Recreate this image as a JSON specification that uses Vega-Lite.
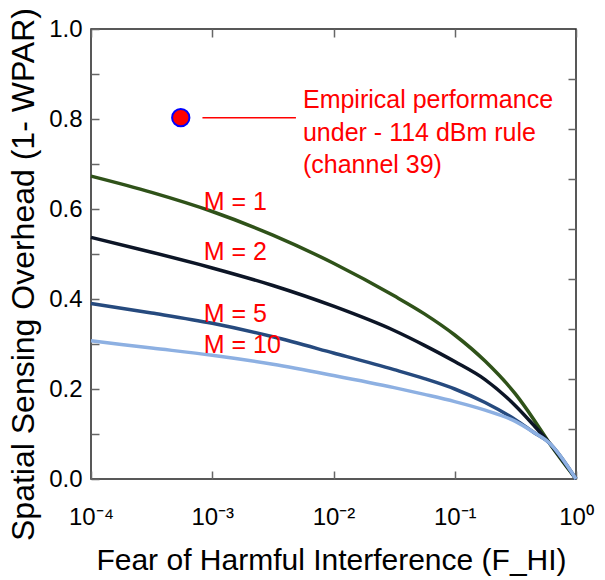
{
  "$schema": "https://vega.github.io/schema/vega-lite/v6.json",
  "width": 485,
  "height": 450,
  "autosize": "none",
  "padding": {"left": 91, "top": 29, "right": 29, "bottom": 101},
  "background": "white",
  "config": {
    "font": "Liberation Sans",
    "view": {"stroke": "#222222", "strokeWidth": 1.5},
    "axis": {"domain": false, "grid": false, "labelFont": "Liberation Sans", "titleFont": "Liberation Sans", "titleFontWeight": "normal", "labelColor": "#000000", "titleColor": "#000000", "tickColor": "#666666", "tickWidth": 1.5, "tickSize": -8, "labelFlush": false, "labelOverlap": false, "labelBound": false}
  },
  "datasets": {
    "curves": [
      {"F": 0.0001, "v": 0.673, "M": "M1"}, {"F": 0.00031623, "v": 0.637, "M": "M1"}, {"F": 0.001, "v": 0.5945, "M": "M1"}, {"F": 0.0031623, "v": 0.542, "M": "M1"}, {"F": 0.01, "v": 0.4795, "M": "M1"}, {"F": 0.031623, "v": 0.407, "M": "M1"}, {"F": 0.056234, "v": 0.367, "M": "M1"}, {"F": 0.1, "v": 0.32, "M": "M1"}, {"F": 0.17783, "v": 0.262, "M": "M1"}, {"F": 0.31623, "v": 0.189, "M": "M1"}, {"F": 0.44668, "v": 0.133, "M": "M1"}, {"F": 0.60256, "v": 0.08, "M": "M1"}, {"F": 1, "v": 0, "M": "M1"},
      {"F": 0.0001, "v": 0.537, "M": "M2"}, {"F": 0.00031623, "v": 0.504, "M": "M2"}, {"F": 0.001, "v": 0.469, "M": "M2"}, {"F": 0.0031623, "v": 0.43, "M": "M2"}, {"F": 0.01, "v": 0.384, "M": "M2"}, {"F": 0.031623, "v": 0.33, "M": "M2"}, {"F": 0.056234, "v": 0.297, "M": "M2"}, {"F": 0.1, "v": 0.261, "M": "M2"}, {"F": 0.17783, "v": 0.221, "M": "M2"}, {"F": 0.31623, "v": 0.163, "M": "M2"}, {"F": 0.44668, "v": 0.12, "M": "M2"}, {"F": 0.60256, "v": 0.08, "M": "M2"}, {"F": 1, "v": 0, "M": "M2"},
      {"F": 0.0001, "v": 0.39, "M": "M5"}, {"F": 0.00031623, "v": 0.369, "M": "M5"}, {"F": 0.001, "v": 0.346, "M": "M5"}, {"F": 0.0031623, "v": 0.316, "M": "M5"}, {"F": 0.01, "v": 0.28, "M": "M5"}, {"F": 0.031623, "v": 0.243, "M": "M5"}, {"F": 0.056234, "v": 0.223, "M": "M5"}, {"F": 0.1, "v": 0.2, "M": "M5"}, {"F": 0.17783, "v": 0.17, "M": "M5"}, {"F": 0.31623, "v": 0.132, "M": "M5"}, {"F": 0.44668, "v": 0.104, "M": "M5"}, {"F": 0.60256, "v": 0.08, "M": "M5"}, {"F": 1, "v": 0, "M": "M5"},
      {"F": 0.0001, "v": 0.307, "M": "M10"}, {"F": 0.00031623, "v": 0.291, "M": "M10"}, {"F": 0.001, "v": 0.275, "M": "M10"}, {"F": 0.0031623, "v": 0.255, "M": "M10"}, {"F": 0.01, "v": 0.23, "M": "M10"}, {"F": 0.031623, "v": 0.203, "M": "M10"}, {"F": 0.056234, "v": 0.188, "M": "M10"}, {"F": 0.1, "v": 0.172, "M": "M10"}, {"F": 0.17783, "v": 0.153, "M": "M10"}, {"F": 0.31623, "v": 0.128, "M": "M10"}, {"F": 0.44668, "v": 0.104, "M": "M10"}, {"F": 0.60256, "v": 0.08, "M": "M10"}, {"F": 1, "v": 0, "M": "M10"}
    ],
    "point": [{"F": 0.00055, "v": 0.803}],
    "leader": [{"F1": 0.00083, "F2": 0.0049, "v": 0.803}],
    "note": [{"F": 0.0056, "v": 0.8235, "label": "Empirical performance\nunder - 114 dBm rule\n(channel 39)"}],
    "mlabels": [
      {"F": 0.00085, "v": 0.616, "label": "M = 1"},
      {"F": 0.00085, "v": 0.505, "label": "M = 2"},
      {"F": 0.00085, "v": 0.367, "label": "M = 5"},
      {"F": 0.00085, "v": 0.297, "label": "M = 10"}
    ]
  },
  "layer": [
    {
      "data": {"name": "curves"},
      "mark": {"type": "line", "strokeWidth": 3.5, "interpolate": "monotone"},
      "encoding": {
        "x": {"field": "F", "type": "quantitative", "scale": {"type": "log", "domain": [0.0001, 1], "nice": false},
          "axis": {"orient": "bottom", "values": [0.0001, 0.001, 0.01, 0.1, 1], "labelFontSize": 24, "labelBaseline": "alphabetic", "labelAlign": "center", "labelPadding": 53,
            "labelExpr": "datum.value >= 0.99 ? '10⁰' : datum.value >= 0.099 ? '10⁻¹' : datum.value >= 0.0099 ? '10⁻²' : datum.value >= 0.00099 ? '10⁻³' : '10⁻⁴'",
            "title": "Fear of Harmful Interference (F_HI)", "titleFontSize": 30, "titleBaseline": "alphabetic", "titleY": 90, "titleX": 240}},
        "y": {"field": "v", "type": "quantitative", "scale": {"domain": [0, 1], "nice": false, "zero": false},
          "axis": {"orient": "left", "values": [0, 0.1, 0.2, 0.3, 0.4, 0.5, 0.6, 0.7, 0.8, 0.9, 1.0], "labelFontSize": 24, "labelPadding": 17, "labelBaseline": "middle",
            "labelExpr": "round(datum.value * 10) % 2 == 0 ? format(datum.value, '.1f') : ''",
            "title": "Spatial Sensing Overhead (1- WPAR)", "titleFontSize": 32, "titleBaseline": "alphabetic", "titleX": -58, "titleY": 245, "titleAngle": -90}},
        "color": {"field": "M", "type": "nominal", "scale": {"domain": ["M10", "M5", "M2", "M1"], "range": ["#8db0e2", "#264a7e", "#0c1526", "#2f5219"]}, "legend": null}
      }
    },
    {
      "data": {"name": "point"},
      "mark": {"type": "point", "shape": "circle", "filled": true, "fill": "#ff0000", "stroke": "#0000ff", "strokeWidth": 2, "size": 300, "opacity": 1},
      "encoding": {
        "x": {"field": "F", "type": "quantitative", "scale": {"type": "log", "domain": [0.0001, 1], "nice": false},
          "axis": {"orient": "top", "values": [0.0001, 0.001, 0.01, 0.1, 1], "labels": false, "title": null}},
        "y": {"field": "v", "type": "quantitative", "scale": {"domain": [0, 1], "nice": false, "zero": false},
          "axis": {"orient": "right", "values": [0.11111, 0.22222, 0.33333, 0.44444, 0.55556, 0.66667, 0.77778, 0.88889], "labels": false, "title": null}}
      }
    },
    {
      "data": {"name": "leader"},
      "mark": {"type": "rule", "color": "#ff0000", "strokeWidth": 1.5},
      "encoding": {
        "x": {"field": "F1", "type": "quantitative", "axis": null},
        "x2": {"field": "F2"},
        "y": {"field": "v", "type": "quantitative", "axis": null}
      }
    },
    {
      "data": {"name": "note"},
      "mark": {"type": "text", "align": "left", "baseline": "alphabetic", "fontSize": 25, "lineHeight": 32.5, "color": "#ff0000", "lineBreak": "\n"},
      "encoding": {
        "x": {"field": "F", "type": "quantitative", "axis": null},
        "y": {"field": "v", "type": "quantitative", "axis": null},
        "text": {"field": "label"}
      }
    },
    {
      "data": {"name": "mlabels"},
      "mark": {"type": "text", "align": "left", "baseline": "middle", "fontSize": 25, "color": "#ff0000"},
      "encoding": {
        "x": {"field": "F", "type": "quantitative", "axis": null},
        "y": {"field": "v", "type": "quantitative", "axis": null},
        "text": {"field": "label"}
      }
    }
  ],
  "resolve": {"axis": {"x": "independent", "y": "independent"}}
}
